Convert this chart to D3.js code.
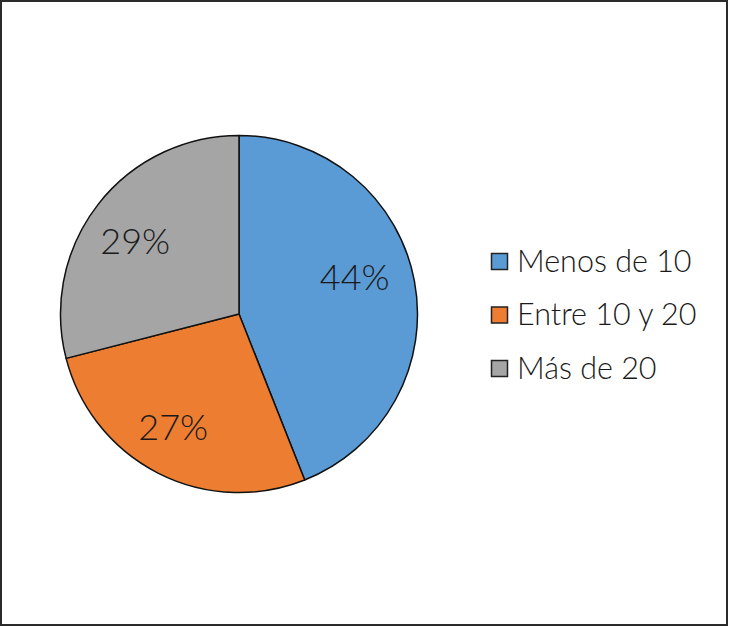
<!DOCTYPE html>
<html><head><meta charset="utf-8">
<script src="https://cdn.jsdelivr.net/npm/d3@7"></script>
<style>body{margin:0;background:#fff}svg{display:block}text{font-family:Lato,"Open Sans",sans-serif;font-weight:300;fill:#1a1a1a}</style>
</head><body><svg id="c" width="729" height="627"></svg>
<script>
const categories = ["Menos de 10", "Entre 10 y 20", "Más de 20"];
const values = [44, 27, 29];
const labels = ["44%", "27%", "29%"];
const colors = ["#5b9bd5", "#ed7d31", "#a5a5a5"];

const svg = d3.select("#c");
svg.append("rect").attr("x",1).attr("y",1).attr("width",726).attr("height",624)
  .attr("fill","#fff").attr("stroke","#2b2b2b").attr("stroke-width",2);

const cx = 239, cy = 314, R = 178.5;
const pie = d3.pie().sort(null).value(d=>d)(values);
const arc = d3.arc().innerRadius(0).outerRadius(R);
const labArc = d3.arc().innerRadius(125).outerRadius(125);
const g = svg.append("g").attr("transform",`translate(${cx},${cy})`);
g.selectAll("path").data(pie).join("path")
  .attr("d",arc).attr("fill",(d,i)=>colors[i]).attr("stroke","#111").attr("stroke-width",1.5).attr("stroke-linejoin","round");
const off = [[-7,-14],[-9,2],[-5,4]];
g.selectAll("text").data(pie).join("text")
  .attr("x",(d,i)=>labArc.centroid(d)[0]+off[i][0])
  .attr("y",(d,i)=>labArc.centroid(d)[1]+off[i][1])
  .attr("text-anchor","middle").attr("dy","0.36em")
  .attr("font-size",36).text((d,i)=>labels[i]);

const ly = d3.scalePoint().domain(categories).range([261, 368]);
const lg = svg.append("g");
categories.forEach((c,i)=>{
  lg.append("rect").attr("x",491.5).attr("y",ly(c)-7.5).attr("width",16).attr("height",16)
    .attr("fill",colors[i]).attr("stroke","#222").attr("stroke-width",1.5);
  lg.append("text").attr("x",517).attr("y",ly(c)).attr("dy","0.36em").attr("font-size",30.5).text(c);
});
</script></body></html>
